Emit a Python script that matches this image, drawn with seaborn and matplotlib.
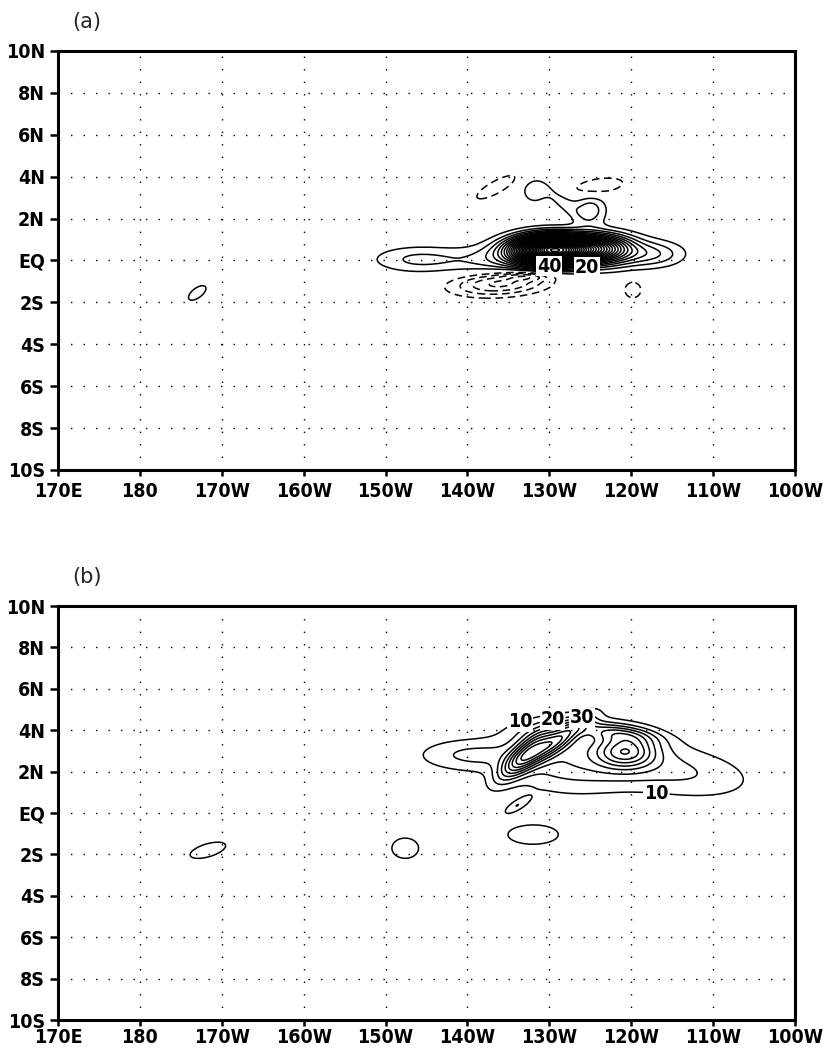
import numpy as np
import seaborn as sns
from matplotlib import pyplot as plt

# grid-lines / tick labels
lon_ticks = [170, 180, 190, 200, 210, 220, 230, 240, 250, 260]
lon_labels = ['170E', '180', '170W', '160W', '150W', '140W', '130W', '120W', '110W', '100W']
lat_ticks = [-10, -8, -6, -4, -2, 0, 2, 4, 6, 8, 10]
lat_labels = ['10S', '8S', '6S', '4S', '2S', 'EQ', '2N', '4N', '6N', '8N', '10N']

# panel (a) anomaly centres (lon in deg E, lat in deg)
a_lon = [214.0, 224.0, 238.0, 243.0, 230.5, 236.5, 224.0, 227.5, 240.2, 223.5, 236.0, 228.2, 235.0, 231.5, 187.0]
a_lat = [0.05, 0.0, 0.35, 0.3, 0.5, 0.6, -1.1, -0.75, -1.4, 3.5, 3.55, 3.3, 2.4, 2.85, -1.55]
a_amp = [11, 11, 12, 9, 160, 40, -22, -12, -9, -10, -10, 9, 13, 7, 8]
a_slon = [4.0, 4.0, 4.5, 2.5, 3.2, 2.5, 4.0, 2.0, 0.9, 2.0, 2.5, 1.1, 1.4, 1.6, 1.1]
a_slat = [0.45, 0.5, 0.55, 0.4, 0.45, 0.45, 0.4, 0.15, 0.35, 0.28, 0.3, 0.4, 0.5, 0.35, 0.28]
a_slope = [0, 0, 0, 0, 0, 0, 0.02, 0, 0, 0.19, 0.05, 0, 0, -0.25, 0.2]
a_step = 5

# panel (b)
b_lon = [220.0, 233.0, 246.0, 227.0, 231.0, 238.0, 239.4, 228.0, 226.0, 228.0, 188.3, 212.4]
b_lat = [2.8, 2.7, 2.0, 2.8, 3.5, 3.9, 3.0, 3.9, 0.35, -1.05, -1.8, -1.7]
b_amp = [20, 28, 20, 60, 52, 30, 56, 10, 18, 18, 18, 18]
b_slon = [4.5, 6.0, 6.5, 2.2, 2.5, 3.5, 2.5, 2.5, 1.15, 2.8, 2.0, 1.5]
b_slat = [0.55, 1.2, 0.9, 0.5, 0.4, 0.3, 0.55, 0.45, 0.2, 0.42, 0.3, 0.45]
b_slope = [0, 0, -0.05, 0.3, 0.25, -0.05, 0, 0, 0.2, 0, 0.1, 0]
b_step = 10

# contour labels: level and where it sits
a_lab_levels = [40, 20]
a_lab_pos = [(230.0, -0.3), (234.6, -0.3)]
b_lab_levels = [10, 20, 30, 10]
b_lab_pos = [(226.3, 4.6), (230.6, 4.0), (234.0, 3.9), (243.1, 1.1)]


def make_field(LON, LAT, lon_c, lat_c, amp, s_lon, s_lat, slope):
    f = np.zeros_like(LON)
    for lc, la, a, sl, sa, sp in zip(lon_c, lat_c, amp, s_lon, s_lat, slope):
        dx = (LON - lc) / sl
        dy = (LAT - la - sp * (LON - lc)) / sa
        f += a * np.exp(-0.5 * (dx ** 2 + dy ** 2))
    return f


sns.set_theme(style='white')
plt.rcParams['font.family'] = ['DejaVu Sans']
plt.rcParams['font.stretch'] = 'condensed'
plt.rcParams['font.weight'] = 'bold'

lons = np.linspace(170, 260, 901)
lats = np.linspace(-10, 10, 401)
LON, LAT = np.meshgrid(lons, lats)
field_a = make_field(LON, LAT, a_lon, a_lat, a_amp, a_slon, a_slat, a_slope)
field_b = make_field(LON, LAT, b_lon, b_lat, b_amp, b_slon, b_slat, b_slope)

fig = plt.figure(figsize=(8.23, 10.53), dpi=100, facecolor='white')
ax_a = fig.add_axes([0.0705, 0.5537, 0.8955, 0.3979])
ax_b = fig.add_axes([0.0705, 0.0313, 0.8955, 0.3932])

dash = (0, (5, 3))
panels = [(ax_a, field_a, a_step, a_lab_levels, a_lab_pos, '(a)', 0.979, 5),
          (ax_b, field_b, b_step, b_lab_levels, b_lab_pos, '(b)', 0.452, 1.5)]
for ax, fld, step, lab_lv, lab_pos, tag, ty, xpad in panels:
    levels = [l for l in range(-60, 205, step) if l != 0 and l not in lab_lv]
    styles = [dash if l < 0 else 'solid' for l in levels]
    ax.contour(LON, LAT, fld, levels=levels, colors='black', linewidths=1.1, linestyles=styles)
    for lv in sorted(set(lab_lv)):
        pos = [p for l, p in zip(lab_lv, lab_pos) if l == lv]
        cs_lab = ax.contour(LON, LAT, fld, levels=[lv], colors='black', linewidths=1.1, linestyles='solid')
        texts = ax.clabel(cs_lab, manual=pos, fmt='%d', fontsize=14, inline=True, inline_spacing=1)
        for t in texts:
            t.set_rotation(0)
            t.set_bbox(dict(facecolor='white', edgecolor='none', pad=0.5))
    ax.set_xlim(170, 260)
    ax.set_ylim(-10, 10)
    ax.set_xticks(lon_ticks)
    ax.set_xticklabels(lon_labels)
    ax.set_yticks(lat_ticks)
    ax.set_yticklabels(lat_labels)
    ax.grid(True, linestyle=(0, (1, 8)), linewidth=1.0, color='black')
    ax.tick_params(axis='x', direction='out', length=4, width=1.8, pad=xpad, labelsize=14, bottom=True, colors='black')
    ax.tick_params(axis='y', direction='out', length=6, width=1.8, pad=3.5, labelsize=14, left=True, colors='black')
    for sp in ax.spines.values():
        sp.set_linewidth(2.2)
        sp.set_color('black')
    fig.text(0.0875, ty, tag, fontsize=15, family='DejaVu Sans', weight='normal', stretch='normal',
             va='center', ha='left')

fig.savefig('out.png', dpi=100, facecolor='white')
